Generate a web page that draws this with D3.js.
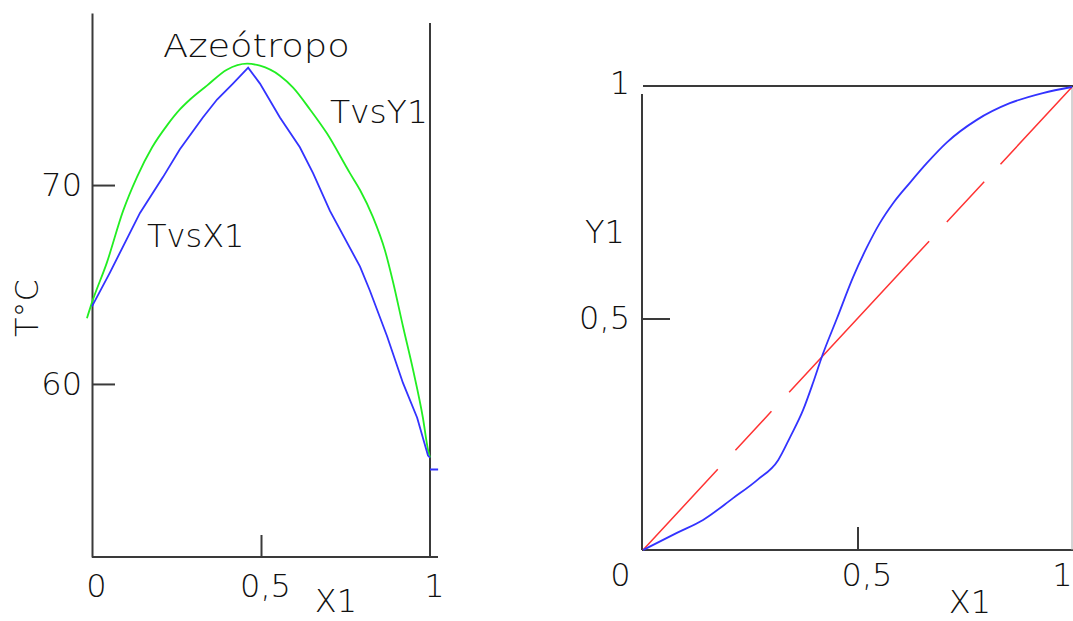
<!DOCTYPE html>
<html>
<head>
    <title>Azeotropo</title>
    <script src="https://d3js.org/d3.v7.min.js"></script>
    <style>
        body { margin: 0; background: #fff; }
        text { font-family: "DejaVu Sans", sans-serif; font-weight: 200; fill: #111; }
    </style>
</head>
<body>
    <svg id="chart"></svg>
    <script>
        // T-x-y diagram (left)
        const x1Liq = [0, 0.053, 0.142, 0.21, 0.26, 0.328, 0.37, 0.417, 0.462, 0.497, 0.556, 0.615, 0.654, 0.704, 0.793, 0.822, 0.873, 0.92, 0.962, 0.994, 1];
        const tLiq = [63.9, 65.6, 68.6, 70.4, 71.8, 73.4, 74.3, 75.1, 75.9, 75.1, 73.4, 71.9, 70.6, 68.7, 65.9, 64.7, 62.4, 60.05, 58.3, 56.4, 56.3];
        const y1Vap = [-0.015, 0, 0.044, 0.092, 0.133, 0.178, 0.222, 0.26, 0.29, 0.34, 0.399, 0.459, 0.497, 0.556, 0.595, 0.645, 0.695, 0.763, 0.793, 0.831, 0.867, 0.891, 0.92, 0.95, 0.979, 0.994, 1];
        const tVap = [63.3, 64.1, 66.1, 68.7, 70.4, 71.9, 73.0, 73.8, 74.3, 75.0, 75.8, 76.1, 76.0, 75.5, 74.9, 73.8, 72.6, 70.6, 69.75, 68.4, 66.7, 65.1, 62.9, 60.7, 58.3, 56.7, 56.3];
        const tTicks = [60, 70];
        const xTicks = [0, 0.5, 1];

        // x-y diagram (right)
        const xEq = [0, 0.079, 0.14, 0.21, 0.266, 0.315, 0.343, 0.373, 0.396, 0.418, 0.452, 0.49, 0.522, 0.552, 0.583, 0.622, 0.662, 0.709, 0.778, 0.855, 0.932, 1];
        const yEq = [0, 0.037, 0.065, 0.112, 0.151, 0.194, 0.244, 0.302, 0.36, 0.42, 0.50, 0.59, 0.654, 0.706, 0.749, 0.793, 0.836, 0.881, 0.929, 0.965, 0.987, 1];
        const diag = [0, 1];
        const yTicks = [0.5, 1];

        const svg = d3.select('#chart')
            .attr('width', 1073)
            .attr('height', 621);

        const axisColor = '#3a3a3a';
        const fs = 32;
        const fmt = d => d === 0.5 ? '0,5' : d;

        // ---------- left chart ----------
        const xL = d3.scaleLinear().domain([0, 1]).range([92, 430]);
        const yL = d3.scaleLinear().domain([51.3, 78.65]).range([557, 13]);

        const gL = svg.append('g');

        // bottom axis
        const axB = gL.append('g')
            .attr('transform', 'translate(0,557)')
            .call(d3.axisBottom(xL).tickValues(xTicks).tickFormat(fmt)
                .tickSizeInner(-22).tickSizeOuter(0).tickPadding(17));
        axB.select('.domain').attr('d', 'M92,0H438');
        axB.selectAll('.tick line').filter(d => d !== 0.5).remove();
        axB.selectAll('.tick text').attr('dx', 4);

        // left axis
        const axL = gL.append('g')
            .attr('transform', 'translate(92,0)')
            .call(d3.axisLeft(yL).tickValues(tTicks).tickSizeInner(-23).tickSizeOuter(0).tickPadding(10));

        // right vertical line
        gL.append('line')
            .attr('x1', xL(1)).attr('x2', xL(1))
            .attr('y1', yL(78.15)).attr('y2', yL(51.3))
            .attr('stroke', axisColor).attr('stroke-width', 2);
        gL.append('line')
            .attr('x1', xL(1)).attr('x2', xL(1.024))
            .attr('y1', yL(55.7)).attr('y2', yL(55.7))
            .attr('stroke', '#3333ff').attr('stroke-width', 2);

        [axB, axL].forEach(a => {
            a.selectAll('path, line').attr('stroke', axisColor).attr('stroke-width', 2);
            a.selectAll('text').attr('font-size', fs).attr('font-family', '"DejaVu Sans", sans-serif').attr('fill', '#111');
        });

        const lineLin = d3.line().x(d => xL(d[0])).y(d => yL(d[1]));
        const lineSmooth = d3.line().x(d => xL(d[0])).y(d => yL(d[1])).curve(d3.curveMonotoneX);

        gL.append('path')
            .datum(d3.zip(y1Vap, tVap))
            .attr('d', lineSmooth)
            .attr('fill', 'none').attr('stroke', '#22ee22').attr('stroke-width', 1.8);

        gL.append('path')
            .datum(d3.zip(x1Liq, tLiq))
            .attr('d', lineLin)
            .attr('fill', 'none').attr('stroke', '#3333ff').attr('stroke-width', 1.8);

        gL.append('text').attr('transform', 'translate(163,57) scale(1.15,1)').attr('font-size', fs)
            .text('Azeótropo');
        gL.append('text').attr('transform', 'translate(330,123) scale(1.03,1)').attr('font-size', fs).text('TvsY1');
        gL.append('text').attr('transform', 'translate(147,247) scale(1.0,1)').attr('font-size', fs).text('TvsX1');
        gL.append('text').attr('x', 336).attr('y', 612).attr('font-size', fs)
            .attr('text-anchor', 'middle').text('X1');
        gL.append('text')
            .attr('transform', 'translate(38,308) rotate(-90)')
            .attr('font-size', fs).attr('text-anchor', 'middle').text('T°C');

        // ---------- right chart ----------
        const xR = d3.scaleLinear().domain([0, 1]).range([643, 1072]);
        const yR = d3.scaleLinear().domain([0, 1]).range([550, 87]);

        const gR = svg.append('g');

        const axRB = gR.append('g')
            .attr('transform', 'translate(0,550)')
            .call(d3.axisBottom(xR).tickValues(xTicks).tickFormat(fmt)
                .tickSizeInner(-23).tickSizeOuter(0).tickPadding(13));
        axRB.select('.domain').attr('d', 'M642,0H1073');
        axRB.selectAll('.tick line').filter(d => d !== 0.5).remove();
        axRB.selectAll('.tick text')
            .attr('dx', d => d === 0 ? -23 : d === 1 ? 0 : 9)
            .attr('text-anchor', d => d === 1 ? 'end' : 'middle');

        const axRL = gR.append('g')
            .attr('transform', 'translate(642,0)')
            .call(d3.axisLeft(yR).tickValues(yTicks).tickFormat(fmt)
                .tickSizeInner(-28).tickSizeOuter(0).tickPadding(12));
        axRL.select('.domain').attr('d', 'M0,' + yR(0.985) + 'V550');
        axRL.selectAll('.tick line').filter(d => d === 1).remove();
        axRL.selectAll('.tick text').attr('dy', d => d === 1 ? '0.2em' : '0.32em');

        // top and right frame lines
        gR.append('line')
            .attr('x1', xR(0)).attr('x2', 1073)
            .attr('y1', yR(1) - 1).attr('y2', yR(1) - 1)
            .attr('stroke', axisColor).attr('stroke-width', 2);
        gR.append('line')
            .attr('x1', xR(1)).attr('x2', xR(1))
            .attr('y1', yR(1)).attr('y2', yR(0))
            .attr('stroke', '#aaa').attr('stroke-width', 1);

        [axRB, axRL].forEach(a => {
            a.selectAll('path, line').attr('stroke', axisColor).attr('stroke-width', 2);
            a.selectAll('text').attr('font-size', fs).attr('font-family', '"DejaVu Sans", sans-serif').attr('fill', '#111');
        });

        const lineR = d3.line().x(d => xR(d[0])).y(d => yR(d[1]));

        gR.append('path')
            .datum(d3.zip(diag, diag))
            .attr('d', lineR)
            .attr('fill', 'none').attr('stroke', '#ff3333').attr('stroke-width', 1.5)
            .attr('stroke-dasharray', '110,26,53,26,206,26,55,24,107');

        gR.append('path')
            .datum(d3.zip(xEq, yEq))
            .attr('d', lineR.curve(d3.curveMonotoneX))
            .attr('fill', 'none').attr('stroke', '#3333ff').attr('stroke-width', 1.8);

        gR.append('text').attr('x', 605).attr('y', 243).attr('font-size', fs)
            .attr('text-anchor', 'middle').text('Y1');
        gR.append('text').attr('x', 970).attr('y', 613).attr('font-size', fs)
            .attr('text-anchor', 'middle').text('X1');
    </script>
</body>
</html>
